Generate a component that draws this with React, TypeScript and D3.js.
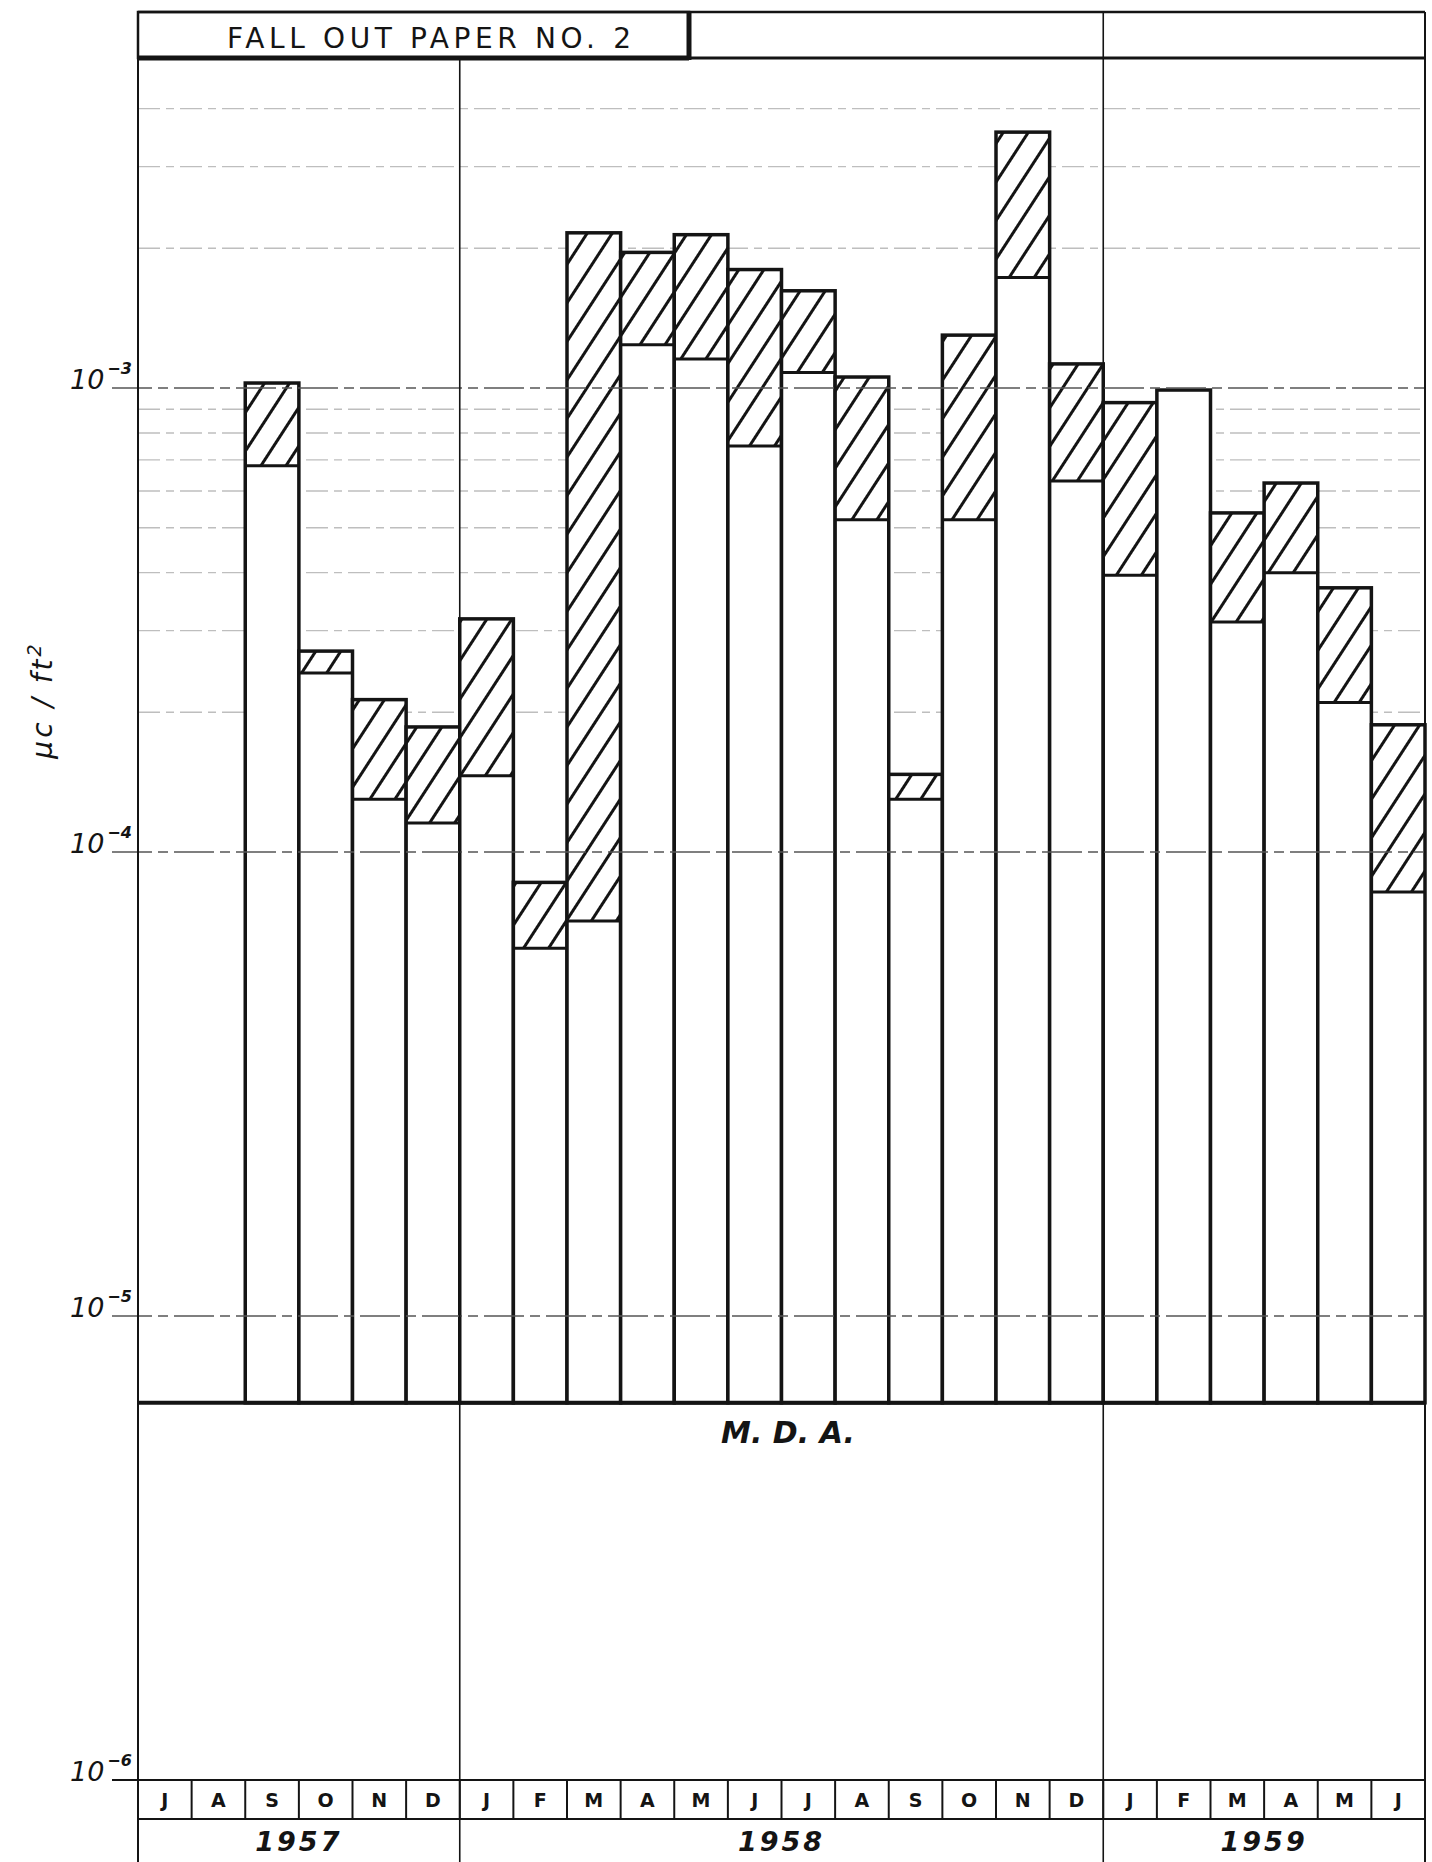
import * as d3 from 'd3';

const MONTHS = ['J', 'A', 'S', 'O', 'N', 'D', 'J', 'F', 'M', 'A', 'M', 'J', 'J', 'A', 'S', 'O', 'N', 'D', 'J', 'F', 'M', 'A', 'M', 'J'];
// top of the open (white) part of each bar, µc/ft²
const OPEN_TOP = [null, null, 6.8e-4, 2.43e-4, 1.3e-4, 1.155e-4, 1.46e-4, 6.2e-5, 7.1e-5, 1.24e-3, 1.155e-3, 7.5e-4, 1.08e-3, 5.2e-4, 1.3e-4, 5.2e-4, 1.73e-3, 6.3e-4, 3.95e-4, 9.9e-4, 3.13e-4, 4.0e-4, 2.1e-4, 8.2e-5];
// top of the hatched part of each bar
const HATCH_TOP = [null, null, 1.025e-3, 2.71e-4, 2.13e-4, 1.86e-4, 3.18e-4, 8.6e-5, 2.16e-3, 1.96e-3, 2.14e-3, 1.8e-3, 1.62e-3, 1.056e-3, 1.47e-4, 1.3e-3, 3.56e-3, 1.127e-3, 9.3e-4, 9.9e-4, 5.38e-4, 6.24e-4, 3.71e-4, 1.88e-4];
const YEARS = ['1957', '1958', '1959'];
const YEAR_START = [0, 6, 18];
const YEAR_END = [6, 18, 24];
const DECADE_LABELS = [-3, -4, -5, -6];
const MDA = 6.5e-6;
const TITLE = 'FALL OUT PAPER NO. 2';

const W = 1432;
const H = 1862;
const INK = '#141414';
const GRID = '#8a8a8a';
const FONT = '"DejaVu Sans", sans-serif';

export default function App() {
  const x = d3.scaleBand<number>().domain(d3.range(MONTHS.length)).range([138, 1425]).padding(0);
  const y = d3.scaleLog().domain([1e-6, 1e-2]).range([1780, -76]);
  const left = 138;
  const right = 1425;
  const headTop = 12;
  const headBottom = 58;
  const monthBottom = 1819;
  const yMda = y(MDA);

  const isDecade = (v: number) => Math.abs(Math.log10(v) - Math.round(Math.log10(v))) < 1e-6;
  // the printed minor rulings only survive in the two upper decades
  const minor = y.ticks().filter((v) => !isDecade(v) && v > 1e-4 && y(v) > 80);
  const decades = y.ticks().filter((v) => isDecade(v) && v < 1e-2);

  const bars = MONTHS.map((m, i) => ({ i, open: OPEN_TOP[i], hatch: HATCH_TOP[i] })).filter(
    (d) => d.hatch != null,
  ) as { i: number; open: number; hatch: number }[];

  return (
    <svg
      width={W}
      height={H}
      viewBox={`0 0 ${W} ${H}`}
      style={{ position: 'absolute', left: 0, top: 0, background: '#fff' }}
    >
      <defs>
        <pattern id="hatch" patternUnits="userSpaceOnUse" width={21} height={21} patternTransform="rotate(33)">
          <rect width={21} height={21} fill="#fff" />
          <line x1={10.5} y1={-1} x2={10.5} y2={22} stroke={INK} strokeWidth={3} />
        </pattern>
      </defs>
      <rect width={W} height={H} fill="#fff" />

      {/* minor grid */}
      {minor.map((v) => (
        <line
          key={`m${v}`}
          x1={left}
          x2={right}
          y1={y(v)}
          y2={y(v)}
          stroke={GRID}
          strokeWidth={1.4}
          strokeDasharray="22 6 8 6"
          opacity={0.55}
        />
      ))}

      {/* bars */}
      {bars.map((d) => {
        const x0 = x(d.i)!;
        const bw = x.bandwidth();
        return (
          <g key={`b${d.i}`}>
            <rect x={x0} y={y(d.open)} width={bw} height={yMda - y(d.open)} fill="#fff" />
            {d.hatch > d.open && (
              <rect x={x0} y={y(d.hatch)} width={bw} height={y(d.open) - y(d.hatch)} fill="url(#hatch)" />
            )}
            <rect
              x={x0}
              y={y(d.hatch)}
              width={bw}
              height={yMda - y(d.hatch)}
              fill="none"
              stroke={INK}
              strokeWidth={3.5}
            />
            {d.hatch > d.open && (
              <line x1={x0} x2={x0 + bw} y1={y(d.open)} y2={y(d.open)} stroke={INK} strokeWidth={3} />
            )}
          </g>
        );
      })}

      {/* decade lines */}
      {decades.map((v) => (
        <line
          key={`d${v}`}
          x1={112}
          x2={right}
          y1={y(v)}
          y2={y(v)}
          stroke={v === 1e-6 ? INK : '#555'}
          strokeWidth={v === 1e-6 ? 2 : 1.6}
          strokeDasharray={v === 1e-6 ? undefined : '40 6 10 6'}
        />
      ))}

      {/* decade labels */}
      {DECADE_LABELS.map((e) => (
        <text
          key={`l${e}`}
          x={70}
          y={y(10 ** e) + 1}
          fontFamily={FONT}
          fontStyle="italic"
          fontSize={27}
          fill={INK}
        >
          10
          <tspan dx={3} dy={-15} fontSize={16} fontWeight="bold">
            {`−${-e}`}
          </tspan>
        </text>
      ))}

      {/* y title */}
      <text
        transform="translate(52,700) rotate(-90)"
        textAnchor="middle"
        fontFamily={FONT}
        fontStyle="italic"
        fontSize={28}
        letterSpacing={3}
        fill={INK}
      >
        μc / ft
        <tspan dy={-11} fontSize={19}>
          2
        </tspan>
      </text>

      {/* frame */}
      <line x1={left} x2={left} y1={headTop} y2={H} stroke={INK} strokeWidth={2} />
      <line x1={right} x2={right} y1={headTop} y2={H} stroke={INK} strokeWidth={2} />
      <line x1={left} x2={right} y1={headTop} y2={headTop} stroke={INK} strokeWidth={2.5} />
      <line x1={left} x2={right} y1={headBottom} y2={headBottom} stroke={INK} strokeWidth={3} />
      {YEAR_START.slice(1).map((s) => (
        <line
          key={`yd${s}`}
          x1={x(s)!}
          x2={x(s)!}
          y1={s === 18 ? headTop : headBottom}
          y2={H}
          stroke={INK}
          strokeWidth={1.6}
        />
      ))}

      {/* title box */}
      <rect x={left} y={headTop} width={689 - left} height={headBottom - headTop} fill="none" stroke={INK} strokeWidth={2.5} />
      <line x1={689} x2={689} y1={headTop} y2={headBottom + 2} stroke={INK} strokeWidth={5} />
      <line x1={left} x2={689} y1={headBottom} y2={headBottom} stroke={INK} strokeWidth={5} />
      <text
        x={227}
        y={48}
        fontFamily={FONT}
        fontSize={28}
        textLength={404}
        lengthAdjust="spacing"
        fill={INK}
      >
        {TITLE}
      </text>

      {/* M.D.A. line */}
      <line x1={left} x2={right} y1={yMda} y2={yMda} stroke={INK} strokeWidth={4} />
      <text
        x={721}
        y={1443}
        fontFamily={FONT}
        fontWeight="bold"
        fontStyle="italic"
        fontSize={30}
        textLength={134}
        lengthAdjust="spacing"
        fill={INK}
      >
        M. D. A.
      </text>

      {/* month row */}
      <line x1={left} x2={right} y1={monthBottom} y2={monthBottom} stroke={INK} strokeWidth={2} />
      {MONTHS.map((m, i) => (
        <g key={`mo${i}`}>
          {i > 0 && <line x1={x(i)!} x2={x(i)!} y1={y(1e-6)} y2={monthBottom} stroke={INK} strokeWidth={2} />}
          <text
            x={x(i)! + x.bandwidth() / 2}
            y={1807}
            textAnchor="middle"
            fontFamily={FONT}
            fontWeight="bold"
            fontSize={19}
            fill={INK}
          >
            {m}
          </text>
        </g>
      ))}

      {/* year row */}
      {YEARS.map((yr, k) => (
        <text
          key={yr}
          x={(x(YEAR_START[k])! + (YEAR_END[k] < MONTHS.length ? x(YEAR_END[k])! : right)) / 2}
          y={1851}
          textAnchor="middle"
          fontFamily={FONT}
          fontWeight="bold"
          fontStyle="italic"
          fontSize={27}
          letterSpacing={3}
          fill={INK}
        >
          {yr}
        </text>
      ))}
    </svg>
  );
}
